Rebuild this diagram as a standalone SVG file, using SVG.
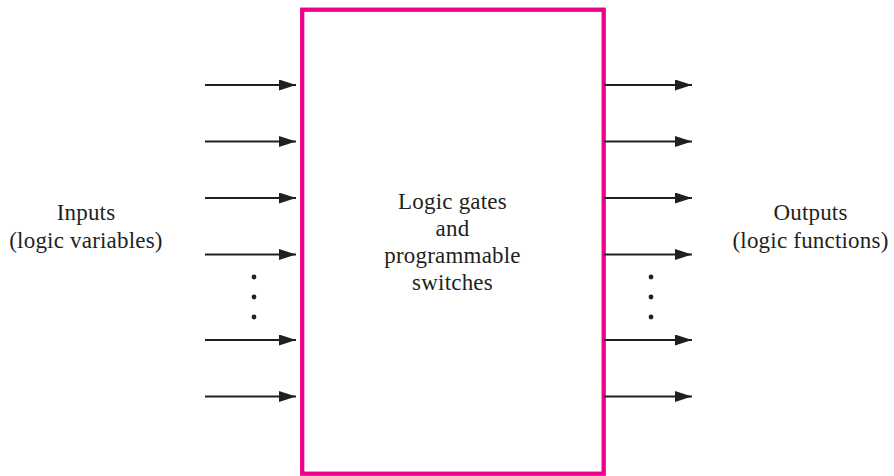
<svg xmlns="http://www.w3.org/2000/svg" width="894" height="476" viewBox="0 0 894 476">
<style>
.lbl{font-family:"Liberation Serif","Times New Roman",serif;font-size:23px;fill:#231f20;text-anchor:middle;letter-spacing:0.2px}
.wire{stroke:#231f20;stroke-width:2;fill:none}
.dot{fill:#231f20}
</style>
<defs>
<marker id="ah" viewBox="0 0 17 11" refX="17" refY="5.5" markerWidth="17" markerHeight="11" markerUnits="userSpaceOnUse" orient="auto">
<path d="M0,0 L17,5.5 L0,11 Z" fill="#231f20"/>
</marker>
</defs>
<g id="block">
<rect x="302.2" y="9.7" width="301.5" height="464" fill="none" stroke="#ec008c" stroke-width="4.3"/>
<text class="lbl" x="452.5" y="208.5">Logic gates</text>
<text class="lbl" x="452.5" y="235.8">and</text>
<text class="lbl" x="452.5" y="263">programmable</text>
<text class="lbl" x="452.5" y="290.3">switches</text>
</g>
<g id="inputs">
<text class="lbl" x="86" y="220">Inputs</text>
<text class="lbl" x="86" y="248.3">(logic variables)</text>
<circle class="dot" cx="254" cy="277" r="2.4"/>
<circle class="dot" cx="254" cy="297" r="2.4"/>
<circle class="dot" cx="254" cy="317" r="2.4"/>
</g>
<g id="outputs">
<text class="lbl" x="810.5" y="219.5">Outputs</text>
<text class="lbl" x="810.5" y="248.3">(logic functions)</text>
<circle class="dot" cx="651" cy="277" r="2.4"/>
<circle class="dot" cx="651" cy="297" r="2.4"/>
<circle class="dot" cx="651" cy="317" r="2.4"/>
</g>
<g id="connectors">
<line class="wire" x1="205" y1="85" x2="296" y2="85" marker-end="url(#ah)"/>
<line class="wire" x1="205" y1="141.5" x2="296" y2="141.5" marker-end="url(#ah)"/>
<line class="wire" x1="205" y1="198" x2="296" y2="198" marker-end="url(#ah)"/>
<line class="wire" x1="205" y1="254.5" x2="296" y2="254.5" marker-end="url(#ah)"/>
<line class="wire" x1="205" y1="340" x2="296" y2="340" marker-end="url(#ah)"/>
<line class="wire" x1="205" y1="396.5" x2="296" y2="396.5" marker-end="url(#ah)"/>
<line class="wire" x1="604" y1="85" x2="692" y2="85" marker-end="url(#ah)"/>
<line class="wire" x1="604" y1="141.5" x2="692" y2="141.5" marker-end="url(#ah)"/>
<line class="wire" x1="604" y1="198" x2="692" y2="198" marker-end="url(#ah)"/>
<line class="wire" x1="604" y1="254.5" x2="692" y2="254.5" marker-end="url(#ah)"/>
<line class="wire" x1="604" y1="340" x2="692" y2="340" marker-end="url(#ah)"/>
<line class="wire" x1="604" y1="396.5" x2="692" y2="396.5" marker-end="url(#ah)"/>
</g>
</svg>
